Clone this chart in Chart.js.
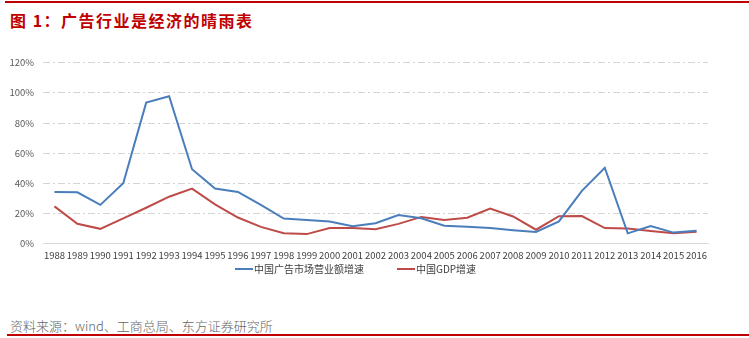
<!DOCTYPE html>
<html>
<head>
<meta charset="utf-8">
<script src="https://cdn.jsdelivr.net/npm/chart.js@4.4.1/dist/chart.umd.min.js"></script>
<style>
  html, body { margin: 0; padding: 0; background: #fff; }
  body { width: 749px; height: 338px; position: relative; overflow: hidden; font-family: "Noto Sans CJK SC", sans-serif; }
  .topbar { position: absolute; left: 5px; right: 0; top: 1px; height: 2px; background: #c00000; }
  .title { position: absolute; left: 10px; top: 8px; font-size: 16px; font-weight: bold; color: #c00000; letter-spacing: 1.5px; }
  .chartbox { position: absolute; left: 0; top: 48px; width: 749px; height: 219px; }
  .legend { position: absolute; top: 261px; left: 0; width: 749px; height: 16px; font-size: 10px; color: #404040; }
  .legend span.item { position: absolute; top: 0; line-height: 16px; white-space: nowrap; }
  .legend i { display: inline-block; width: 18px; height: 2px; vertical-align: middle; margin-right: 1px; position: relative; top: -1px; }
  .source { position: absolute; left: 10px; top: 316px; font-size: 13px; color: #666; font-weight: 300; }
  .bottombar { position: absolute; left: 7px; right: 0; top: 334px; height: 2px; background: #c00000; }
</style>
</head>
<body>
<div class="topbar"></div>
<div class="title">图 1：广告行业是经济的晴雨表</div>
<div class="chartbox"><canvas id="adChart"></canvas></div>
<div class="legend" id="legend"></div>
<div class="source">资料来源：wind、工商总局、东方证券研究所</div>
<div class="bottombar"></div>
<script>
// years on the x axis
const years = ['1988', '1989', '1990', '1991', '1992', '1993', '1994', '1995', '1996', '1997',
  '1998', '1999', '2000', '2001', '2002', '2003', '2004', '2005', '2006', '2007',
  '2008', '2009', '2010', '2011', '2012', '2013', '2014', '2015', '2016'];

// 中国广告市场营业额增速 (%)
const adGrowth = [34.3, 34.0, 25.7, 40.0, 93.5, 97.8, 49.3, 36.5, 34.3, 25.7,
  16.6, 15.7, 14.6, 11.5, 13.5, 19.0, 16.8, 11.9, 11.1, 10.3,
  8.9, 7.7, 14.7, 35.0, 50.3, 6.8, 11.7, 7.3, 8.6];

// 中国GDP增速 (%)
const gdpGrowth = [24.7, 13.2, 9.8, 16.7, 23.8, 31.1, 36.5, 26.0, 17.3, 11.1,
  6.9, 6.3, 10.4, 10.3, 9.6, 13.1, 17.7, 15.6, 17.2, 23.2,
  18.0, 9.2, 18.2, 18.3, 10.3, 10.0, 8.3, 6.9, 7.9];

const seriesNames = ['中国广告市场营业额增速', '中国GDP增速'];
const seriesColors = ['#4a7ebb', '#be4b48'];
const yTicks = [0, 20, 40, 60, 80, 100, 120];

const tickFont = { family: '"Noto Sans CJK SC", sans-serif', size: 9.5 };

const config = {
  type: 'line',
  data: {
    labels: years,
    datasets: [
      {
        label: seriesNames[0],
        data: adGrowth,
        borderColor: seriesColors[0],
        borderWidth: 2,
        pointRadius: 0,
        tension: 0,
        fill: false
      },
      {
        label: seriesNames[1],
        data: gdpGrowth,
        borderColor: seriesColors[1],
        borderWidth: 2,
        pointRadius: 0,
        tension: 0,
        fill: false
      }
    ]
  },
  options: {
    responsive: true,
    maintainAspectRatio: false,
    animation: false,
    layout: {
      padding: { top: 6, right: 41, bottom: 0, left: 0 }
    },
    plugins: {
      legend: { display: false },
      tooltip: { enabled: false }
    },
    scales: {
      x: {
        offset: true,
        grid: { display: false, drawTicks: false },
        border: { display: true, color: '#d9d9d9', width: 1 },
        ticks: {
          autoSkip: false,
          maxRotation: 0,
          padding: 6,
          color: '#404040',
          font: tickFont
        }
      },
      y: {
        min: 0,
        max: 120,
        afterBuildTicks: (scale) => {
          scale.ticks = yTicks.map((v) => ({ value: v }));
        },
        afterFit: (scale) => {
          scale.width = 43;
        },
        grid: {
          drawTicks: false,
          color: (ctx) => (ctx.tick && ctx.tick.value === 0 ? 'rgba(0,0,0,0)' : '#d4d4d4'),
          lineWidth: 1
        },
        border: { display: false, dash: [7, 3, 2, 3] },
        ticks: {
          padding: 9,
          color: '#595959',
          font: tickFont,
          callback: (v) => v + '%'
        }
      }
    }
  }
};

new Chart(document.getElementById('adChart'), config);

// legend below the plot, two items with a line sample each
const legendPos = [235, 397];
const legendEl = document.getElementById('legend');
seriesNames.forEach((name, i) => {
  const item = document.createElement('span');
  item.className = 'item';
  item.style.left = legendPos[i] + 'px';
  const swatch = document.createElement('i');
  swatch.style.background = seriesColors[i];
  item.appendChild(swatch);
  item.appendChild(document.createTextNode(name));
  legendEl.appendChild(item);
});
</script>
</body>
</html>
